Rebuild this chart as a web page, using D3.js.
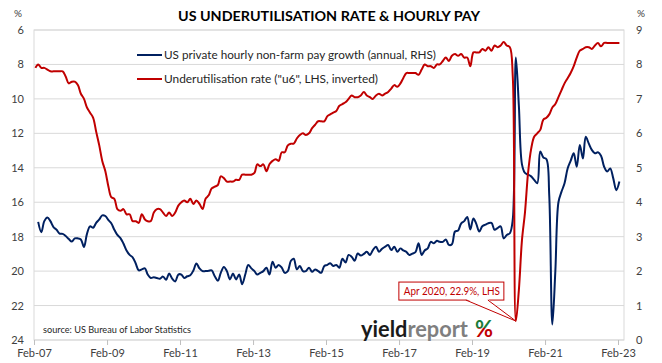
<!DOCTYPE html>
<meta charset="utf-8">
<style>
body { margin: 0; background: #fff; }
text { font-family: Lato, "Open Sans", sans-serif; }
.grid line { stroke: #d9d9d9; stroke-width: 1px; }
.axis text { fill: #404040; font-size: 11px; font-family: Lato, sans-serif; }
.axis line { stroke: #bfbfbf; }
</style>
<svg width="662" height="363"></svg>
<script src="https://d3js.org/d3.v7.min.js"></script>
<script>

// U6 underutilisation rate, monthly from Feb 2007 (LHS, inverted)
var u6Rate = [
  8.2, 8.0, 8.2, 8.2, 8.3, 8.4, 8.4, 8.4, 8.4, 8.4, 8.7,            // 2007 (Feb-Dec)
  9.1, 9.0, 9.0, 9.2, 9.7, 10.0, 10.5, 10.8, 11.1, 11.9, 12.7, 13.6, // 2008
  14.2, 15.1, 15.7, 15.8, 16.4, 16.5, 16.4, 16.7, 16.7, 17.1, 17.1, 17.2, // 2009
  16.7, 17.0, 17.1, 17.1, 16.6, 16.4, 16.4, 16.6, 16.8, 16.6, 16.8, 16.6, // 2010
  16.2, 16.0, 15.9, 16.0, 15.8, 16.1, 15.9, 16.1, 16.4, 15.8, 15.6, 15.2, // 2011
  15.1, 15.0, 14.5, 14.6, 14.8, 14.8, 14.8, 14.7, 14.7, 14.4, 14.4, 14.4, // 2012
  14.4, 14.3, 13.8, 13.9, 13.8, 14.2, 13.8, 13.6, 13.5, 13.6, 13.1, 13.1, // 2013
  12.7, 12.6, 12.6, 12.3, 12.1, 12.0, 12.1, 12.0, 11.7, 11.5, 11.3, 11.3, // 2014
  11.3, 11.0, 10.9, 10.8, 10.7, 10.4, 10.3, 10.2, 10.0, 9.8, 9.9, 9.9,    // 2015
  9.8, 9.6, 9.8, 9.9, 10.0, 9.8, 9.7, 9.8, 9.7, 9.6, 9.4, 9.2,            // 2016
  9.3, 9.1, 8.8, 8.5, 8.5, 8.5, 8.5, 8.6, 8.3, 8.0, 8.1, 8.1,             // 2017
  8.2, 8.0, 8.0, 7.8, 7.6, 7.8, 7.5, 7.4, 7.5, 7.4, 7.6, 7.6,             // 2018
  8.1, 7.3, 7.3, 7.3, 7.1, 7.2, 7.0, 7.2, 6.9, 7.0, 6.9, 6.7,             // 2019
  6.9, 7.0, 8.7, 22.9, 21.1, 18.2, 16.6, 14.3, 12.9, 12.2, 12.0, 11.8,    // 2020
  11.2, 11.1, 10.9, 10.5, 10.3, 9.9, 9.5, 9.1, 8.8, 8.5, 8.1, 7.6,        // 2021
  7.2, 7.1, 7.0, 7.0, 7.1, 6.9, 6.75, 6.95, 6.75, 6.75, 6.75, 6.75,      // 2022
  6.75, 6.75                                                            // 2023
]

// private hourly pay growth, annual %, monthly from Mar 2007 (RHS)
var payGrowth = [
  3.43, 3.13, 3.45, 3.56, 3.45, 3.28, 3.20, 3.09, 3.08, 3.02,             // 2007 (Mar-Dec)
  2.93, 2.86, 2.95, 2.95, 2.92, 2.70, 3.08, 3.30, 3.26, 3.40, 3.50, 3.62, // 2008
  3.60, 3.48, 3.39, 3.20, 3.05, 2.96, 2.80, 2.60, 2.47, 2.40, 2.22, 2.02, // 2009
  2.05, 2.08, 1.90, 1.80, 1.82, 1.80, 1.78, 1.84, 1.75, 1.93, 1.78, 1.70, // 2010
  1.90, 1.90, 1.80, 1.85, 1.88, 2.02, 2.22, 2.08, 2.00, 2.00, 2.01, 2.02, // 2011
  1.85, 1.72, 1.95, 2.12, 2.00, 1.76, 1.93, 1.76, 1.90, 1.62, 1.90, 2.18, // 2012
  2.08, 2.00, 1.90, 1.95, 2.00, 2.10, 1.90, 2.27, 2.10, 2.18, 2.10, 1.95, // 2013
  2.00, 2.30, 2.36, 2.05, 2.15, 2.00, 2.00, 2.10, 1.98, 2.05, 2.00, 1.95, // 2014
  2.15, 2.18, 2.23, 2.15, 2.18, 2.10, 2.36, 2.25, 2.47, 2.42, 2.30, 2.51, // 2015
  2.45, 2.50, 2.56, 2.47, 2.61, 2.71, 2.56, 2.65, 2.71, 2.76, 2.61, 2.71, // 2016
  2.56, 2.66, 2.60, 2.56, 2.47, 2.51, 2.55, 2.81, 2.47, 2.60, 2.66, 2.85, // 2017
  2.81, 2.88, 2.85, 2.85, 2.92, 2.76, 2.78, 3.15, 3.18, 3.38, 3.45, 3.57, // 2018
  3.21, 3.53, 3.38, 3.15, 3.30, 3.35, 3.39, 3.40, 3.20, 3.25, 3.30, 2.95, // 2019
  3.05, 3.10, 3.50, 8.20, 6.80, 5.10, 4.85, 4.80, 4.75, 4.65, 4.55, 5.47, // 2020
  5.30, 5.25, 4.20, 0.45, 2.00, 4.00, 4.30, 4.55, 4.98, 5.20, 5.42, 5.03, // 2021
  5.66, 5.27, 5.90, 5.70, 5.52, 5.42, 5.45, 5.35, 5.03, 4.89, 4.98, 4.70, // 2022
  4.35, 4.60                                                              // 2023
]

var leftTicks = [6, 8, 10, 12, 14, 16, 18, 20, 22, 24]
var rightTicks = [0, 1, 2, 3, 4, 5, 6, 7, 8, 9]
var xTickYears = [2007, 2009, 2011, 2013, 2015, 2017, 2019, 2021, 2023]

var u6Start = new Date(2007, 1, 15)
var payStart = new Date(2007, 2, 15)

var svg = d3.select('svg')
var plot = { left: 34, right: 624, top: 30, bottom: 340 }

var x = d3.scaleTime()
  .domain([new Date(2007, 1, 1), new Date(2023, 1, 1)])
  .range([34, 618])
var yL = d3.scaleLinear().domain([6, 24]).range([plot.top, plot.bottom])
var yR = d3.scaleLinear().domain([0, 9]).range([plot.bottom, plot.top])

function toPoints(values, start) {
  return values.map(function (v, i) {
    return { date: d3.timeMonth.offset(start, i), value: v }
  })
}
var u6Points = toPoints(u6Rate, u6Start)
var payPoints = toPoints(payGrowth, payStart)

// gridlines + plot frame
svg.append('g').attr('class', 'grid')
  .selectAll('line').data(leftTicks).enter().append('line')
  .attr('x1', plot.left).attr('x2', plot.right)
  .attr('y1', function (d) { return yL(d) }).attr('y2', function (d) { return yL(d) })

svg.append('rect')
  .attr('x', plot.left).attr('y', plot.top)
  .attr('width', plot.right - plot.left).attr('height', plot.bottom - plot.top)
  .attr('fill', 'none').attr('stroke', '#d9d9d9')

// axes
var leftAxis = svg.append('g').attr('class', 'axis')
  .attr('transform', 'translate(' + plot.left + ',0)')
  .call(d3.axisLeft(yL).tickValues(leftTicks).tickSize(0).tickPadding(10))
leftAxis.select('.domain').remove()

var rightAxis = svg.append('g').attr('class', 'axis')
  .attr('transform', 'translate(' + plot.right + ',0)')
  .call(d3.axisRight(yR).tickValues(rightTicks).tickSize(0).tickPadding(12))
rightAxis.select('.domain').remove()

var bottomAxis = svg.append('g').attr('class', 'axis')
  .attr('transform', 'translate(0,' + plot.bottom + ')')
  .call(d3.axisBottom(x)
    .tickValues(xTickYears.map(function (y) { return new Date(y, 1, 1) }))
    .tickFormat(d3.timeFormat('%b-%y'))
    .tickSize(5).tickPadding(4))
bottomAxis.select('.domain').remove()

// % unit labels
svg.append('text').attr('x', 18).attr('y', 17).attr('text-anchor', 'middle')
  .style('font-size', '10px').attr('fill', '#404040').text('%')
svg.append('text').attr('x', 641).attr('y', 17).attr('text-anchor', 'middle')
  .style('font-size', '10px').attr('fill', '#404040').text('%')

// title
svg.append('text').attr('x', 329).attr('y', 21).attr('text-anchor', 'middle')
  .style('font-size', '14px').style('font-weight', 'bold').attr('fill', '#000')
  .attr('textLength', 302).attr('lengthAdjust', 'spacingAndGlyphs')
  .text('US UNDERUTILISATION RATE & HOURLY PAY')

// lines
var payLine = d3.line()
  .x(function (d) { return x(d.date) })
  .y(function (d) { return yR(d.value) })
  .curve(d3.curveCatmullRom.alpha(0.5))
var u6Line = d3.line()
  .x(function (d) { return x(d.date) })
  .y(function (d) { return yL(d.value) })
  .curve(d3.curveCatmullRom.alpha(0.5))

svg.append('path').datum(payPoints)
  .attr('d', payLine).attr('fill', 'none')
  .attr('stroke', '#002060').attr('stroke-width', 2)
svg.append('path').datum(u6Points)
  .attr('d', u6Line).attr('fill', 'none')
  .attr('stroke', '#c00000').attr('stroke-width', 2)

// legend
var legend = [
  { label: 'US private hourly non-farm pay growth (annual, RHS)', color: '#002060', y: 55, w: 272 },
  { label: 'Underutilisation rate ("u6", LHS, inverted)', color: '#c00000', y: 79, w: 214 }
]
var lg = svg.append('g').selectAll('g').data(legend).enter().append('g')
lg.append('line').attr('x1', 137).attr('x2', 162)
  .attr('y1', function (d) { return d.y }).attr('y2', function (d) { return d.y })
  .attr('stroke', function (d) { return d.color }).attr('stroke-width', 2)
lg.append('text').attr('x', 164).attr('y', function (d) { return d.y + 4 })
  .style('font-size', '12px').attr('fill', '#262626')
  .attr('textLength', function (d) { return d.w }).attr('lengthAdjust', 'spacingAndGlyphs')
  .text(function (d) { return d.label })

// callout on the April 2020 spike
var peak = u6Points[d3.maxIndex(u6Points, function (d) { return d.value })]
var tipX = x(peak.date), tipY = yL(peak.value)
var box = { x: tipX - 117, y: tipY - 39, w: 105, h: 18 }
svg.append('rect').attr('x', box.x).attr('y', box.y).attr('width', box.w).attr('height', box.h)
  .attr('fill', '#fff').attr('stroke', '#c00000').attr('stroke-width', 1)
var wedge = [[tipX - 50, box.y + box.h], [tipX, tipY], [tipX - 28, box.y + box.h]]
svg.append('path')
  .attr('d', 'M' + wedge[0][0] + ',' + (wedge[0][1] - 1) + 'L' + wedge[1] + 'L' + wedge[2][0] + ',' + (wedge[2][1] - 1) + 'Z')
  .attr('fill', '#fff')
svg.append('path').attr('d', d3.line()(wedge))
  .attr('fill', 'none').attr('stroke', '#c00000').attr('stroke-width', 1)
svg.append('text').attr('x', box.x + 5).attr('y', box.y + 13)
  .style('font-size', '11px').attr('fill', '#c00000')
  .attr('textLength', 96).attr('lengthAdjust', 'spacingAndGlyphs')
  .text('Apr 2020, ' + peak.value + '%, LHS')

// source
svg.append('text').attr('x', 43).attr('y', 333)
  .style('font-size', '10px').attr('fill', '#262626')
  .attr('textLength', 148).attr('lengthAdjust', 'spacingAndGlyphs')
  .text('source: US Bureau of Labor Statistics')

// logo
var grad = svg.append('defs').append('linearGradient')
  .attr('id', 'pct').attr('x1', 0).attr('y1', 0).attr('x2', 0).attr('y2', 1)
grad.append('stop').attr('offset', '0%').attr('stop-color', '#1e7b34')
grad.append('stop').attr('offset', '48%').attr('stop-color', '#1e7b34')
grad.append('stop').attr('offset', '52%').attr('stop-color', '#c00000')
grad.append('stop').attr('offset', '100%').attr('stop-color', '#c00000')

var logo = svg.append('text').attr('x', 361).attr('y', 337)
  .style('font-size', '23px').style('font-weight', 'bold')
  .attr('textLength', 107).attr('lengthAdjust', 'spacingAndGlyphs')
logo.append('tspan').attr('fill', '#1a1a1a').text('yield')
logo.append('tspan').attr('fill', '#7f7f7f').text('report')
svg.append('text').attr('x', 475).attr('y', 337)
  .style('font-size', '23px').style('font-weight', 'bold')
  .attr('textLength', 18).attr('lengthAdjust', 'spacingAndGlyphs')
  .attr('fill', 'url(#pct)').text('%')

</script>
